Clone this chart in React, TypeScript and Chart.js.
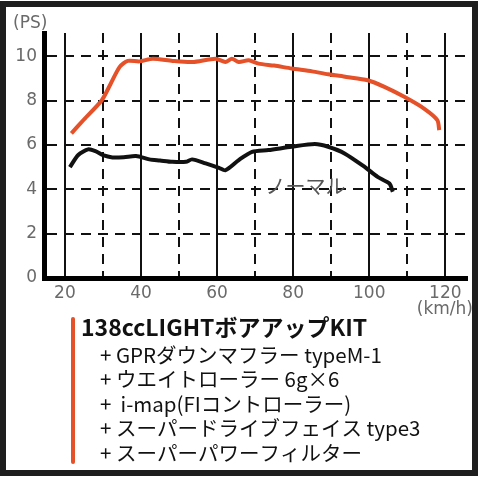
import React, { useEffect, useRef } from "react";
import { Chart, registerables } from "chart.js";

Chart.register(...registerables);

const kitSpeed = [21.7, 25, 29.7, 32, 34.4, 36.5, 39.6, 43.1, 48.3, 53.5, 59.6, 62.2, 63.9, 65.7, 68.3, 70.9, 75, 79.6, 85, 89.2, 94, 99.6, 104, 109.2, 114.4, 117.9, 118.4];
const kitPower = [6.52, 7.15, 8.02, 8.75, 9.52, 9.79, 9.77, 9.89, 9.79, 9.74, 9.89, 9.74, 9.89, 9.74, 9.82, 9.67, 9.58, 9.45, 9.32, 9.19, 9.07, 8.92, 8.62, 8.17, 7.64, 7.12, 6.67];

const normalSpeed = [21.3, 23.5, 26.1, 28, 30, 32.5, 35.5, 38.7, 42.2, 45, 48.2, 51.8, 53.4, 57, 60.5, 62.2, 65.7, 69.2, 73.5, 79.6, 85.7, 89.2, 93.5, 98.8, 102.2, 105.3, 106.2];
const normalPower = [5.0, 5.55, 5.8, 5.72, 5.54, 5.44, 5.45, 5.5, 5.35, 5.3, 5.24, 5.24, 5.35, 5.17, 4.97, 4.86, 5.32, 5.69, 5.77, 5.92, 6.04, 5.92, 5.62, 5.01, 4.56, 4.26, 3.89];

const xTicks = [20, 30, 40, 50, 60, 70, 80, 90, 100, 110, 120];
const yTicks = [0, 2, 4, 6, 8, 10];

const yUnit = "(PS)";
const xUnit = "(km/h)";
const normalLabel = "ノーマル";
const kitTitle = "138ccLIGHTボアアップKIT";
const kitParts = [
  "+ GPRダウンマフラー typeM-1",
  "+ ウエイトローラー 6g×6",
  "+  i-map(FIコントローラー)",
  "+ スーパードライブフェイス type3",
  "+ スーパーパワーフィルター",
];

const ORANGE = "#e5522a";
const FONT = '"Noto Sans CJK JP", "Noto Sans", sans-serif';
const NUMFONT = '"DejaVu Sans", sans-serif';

export default function App() {
  const ref = useRef<HTMLCanvasElement | null>(null);

  useEffect(() => {
    if (!ref.current) return;
    const decor = {
      id: "decor",
      beforeDraw(chart: any) {
        const c = chart.ctx;
        c.save();
        c.fillStyle = "#ffffff";
        c.fillRect(0, 0, chart.width, chart.height);
        c.restore();
      },
      afterDraw(chart: any) {
        const c = chart.ctx;
        const xs = chart.scales.x;
        const ys = chart.scales.y;
        c.save();
        // frame
        c.strokeStyle = "#1e1e1e";
        c.lineWidth = 6;
        c.strokeRect(3, 4, 472, 469);
        // units
        c.fillStyle = "#6a6a6a";
        c.font = `17px ${NUMFONT}`;
        c.textBaseline = "middle";
        c.textAlign = "left";
        c.fillText(yUnit, 13, 24);
        c.textAlign = "right";
        c.fillText(xUnit, 473, 310);
        // normal label
        c.font = `20px ${FONT}`;
        c.textAlign = "left";
        c.fillStyle = "#555555";
        c.fillText(normalLabel, xs.getPixelForValue(72.7), ys.getPixelForValue(4.14));
        // legend bar
        c.strokeStyle = ORANGE;
        c.lineWidth = 4;
        c.lineCap = "round";
        c.beginPath();
        c.moveTo(73, 319);
        c.lineTo(73, 462);
        c.stroke();
        // legend text
        c.fillStyle = "#111111";
        c.textAlign = "left";
        c.font = `bold 23px ${FONT}`;
        c.fillText(kitTitle, 81, 327);
        c.font = `20.5px ${FONT}`;
        kitParts.forEach((t, i) => {
          c.fillText(t, 100, 355 + i * 24.5);
        });
        c.restore();
      },
    };

    const chart = new Chart(ref.current, {
      type: "line",
      data: {
        datasets: [
          {
            label: kitTitle,
            data: kitSpeed.map((x, i) => ({ x, y: kitPower[i] })),
            borderColor: ORANGE,
            borderWidth: 4,
            pointRadius: 0,
            tension: 0.25,
          },
          {
            label: normalLabel,
            data: normalSpeed.map((x, i) => ({ x, y: normalPower[i] })),
            borderColor: "#111111",
            borderWidth: 4,
            pointRadius: 0,
            tension: 0.25,
          },
        ],
      },
      options: {
        responsive: false,
        animation: false,
        layout: { padding: { left: 0, top: 33, right: 13, bottom: 0 } },
        plugins: { legend: { display: false }, tooltip: { enabled: false } },
        scales: {
          x: {
            type: "linear",
            min: 14.5,
            max: 125.7,
            afterFit: (s: any) => {
              s.height = 202;
            },
            afterBuildTicks: (s: any) => {
              s.ticks = xTicks.map((v) => ({ value: v }));
            },
            grid: {
              color: "#111111",
              lineWidth: 2,
              drawTicks: false,
            },
            border: {
              display: true,
              color: "#000000",
              width: 5,
              dash: (ctx: any) => (ctx.tick && ctx.tick.value % 20 !== 0 ? [10, 7] : []),
            },
            ticks: {
              autoSkip: false,
              maxRotation: 0,
              padding: 5,
              color: "#6a6a6a",
              font: { family: NUMFONT, size: 17 },
              callback: (v: any) => (Number(v) % 20 === 0 ? String(v) : ""),
            },
          },
          y: {
            type: "linear",
            min: 0,
            max: 11.05,
            afterFit: (s: any) => {
              s.width = 44;
            },
            afterBuildTicks: (s: any) => {
              s.ticks = yTicks.map((v) => ({ value: v }));
            },
            grid: {
              color: "#111111",
              lineWidth: 2,
              drawTicks: false,
            },
            border: {
              display: true,
              color: "#000000",
              width: 5,
              dash: [10, 7],
            },
            ticks: {
              padding: 7,
              color: "#6a6a6a",
              font: { family: NUMFONT, size: 17 },
            },
          },
        },
      },
      plugins: [decor],
    } as any);
    return () => chart.destroy();
  }, []);

  return (
    <div style={{ position: "absolute", left: 0, top: 0, width: 480, height: 480 }}>
      <canvas ref={ref} width={480} height={480} style={{ width: 480, height: 480, display: "block" }} />
    </div>
  );
}
